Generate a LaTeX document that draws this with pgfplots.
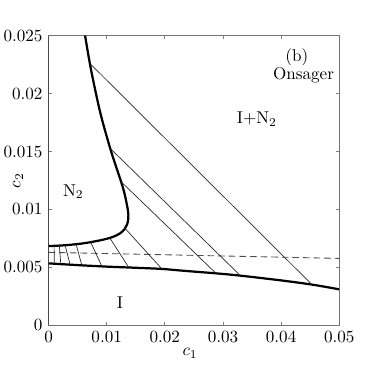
\documentclass[border=0pt]{standalone}
\usepackage{pgfplots}
\pgfplotsset{compat=1.18}
\begin{document}
\begin{tikzpicture}
\begin{axis}[
  scale only axis, width=170pt, height=169.5pt,
  xmin=0, xmax=0.05, ymin=0, ymax=0.025,
  xtick={0,0.01,0.02,0.03,0.04,0.05},
  ytick={0,0.005,0.01,0.015,0.02,0.025},
  scaled ticks=false,
  /pgf/number format/fixed, /pgf/number format/precision=3,
  tick align=inside, major tick length=2pt,
  tick style={gray, line width=0.4pt},
  axis line style={black!55, line width=0.6pt},
  xlabel={$c_1$}, ylabel={$c_2$},
  xlabel style={at={(axis description cs:0.487,-0.097)}, anchor=center},
  ylabel style={at={(axis description cs:-0.105,0.5)}, anchor=center},
  clip=true,
]
% lower (isotropic) binodal
\addplot[black, line width=1.3pt, smooth] coordinates {
(0,0.00535) (0.005,0.0052) (0.01,0.00507) (0.015,0.00497) (0.0195,0.00487) (0.0235,0.00470) (0.0288,0.00449) (0.033,0.00429) (0.04,0.00388) (0.0453,0.00352) (0.05,0.00311)};
% upper (nematic) binodal
\addplot[black, line width=1.3pt, smooth, tension=0.55] coordinates {
(0,0.00684) (0.003,0.00692) (0.006,0.00708) (0.009,0.00735) (0.0110,0.00762) (0.0123,0.00794) (0.0131,0.00832) (0.0135,0.0087) (0.01372,0.0092) (0.01368,0.0098) (0.0134,0.0106) (0.0130,0.0115) (0.01248,0.01239) (0.01155,0.0138) (0.0106,0.01527) (0.00907,0.018) (0.00794,0.0205) (0.0071,0.0226) (0.00628,0.025)};
% dashed line
\addplot[black!70, line width=0.5pt, dash pattern=on 3.9pt off 2.3pt] coordinates {(0,0.0063) (0.05,0.00578)};
% tie lines
\addplot[black!85, line width=0.4pt] coordinates {(0.0071,0.0226) (0.0453,0.00352)};
\addplot[black!85, line width=0.4pt] coordinates {(0.0106,0.01527) (0.033,0.00429)};
\addplot[black!85, line width=0.4pt] coordinates {(0.01248,0.01239) (0.0288,0.00449)};
\addplot[black!85, line width=0.4pt] coordinates {(0.0131,0.0084) (0.0195,0.00487)};
\addplot[black!85, line width=0.4pt] coordinates {(0.01059,0.0075) (0.01374,0.00504)};
\addplot[black!85, line width=0.4pt] coordinates {(0.00726,0.00716) (0.00916,0.00511)};
\addplot[black!85, line width=0.4pt] coordinates {(0.00473,0.00701) (0.00571,0.00521)};
\addplot[black!85, line width=0.4pt] coordinates {(0.00284,0.00692) (0.0037,0.00526)};
\addplot[black!85, line width=0.4pt] coordinates {(0.00186,0.00688) (0.0021,0.0053)};
\addplot[black!85, line width=0.4pt] coordinates {(0.00095,0.00686) (0.001,0.00532)};
% labels
\node at (axis cs:0.0427,0.02317) {(b)};
\node at (axis cs:0.04386,0.0216) {Onsager};
\node at (axis cs:0.03584,0.01777) {I+N$_2$};
\node at (axis cs:0.00427,0.01153) {N$_2$};
\node at (axis cs:0.0123,0.00198) {I};
\draw[black, line width=0.6pt] (rel axis cs:0,0) -- (rel axis cs:0,1);
\end{axis}
\pgfresetboundingbox
\path ([shift={(-28.4pt,-29.6pt)}]current axis.south west) rectangle ([shift={(20.5pt,20.8pt)}]current axis.north east);
\end{tikzpicture}
\end{document}
